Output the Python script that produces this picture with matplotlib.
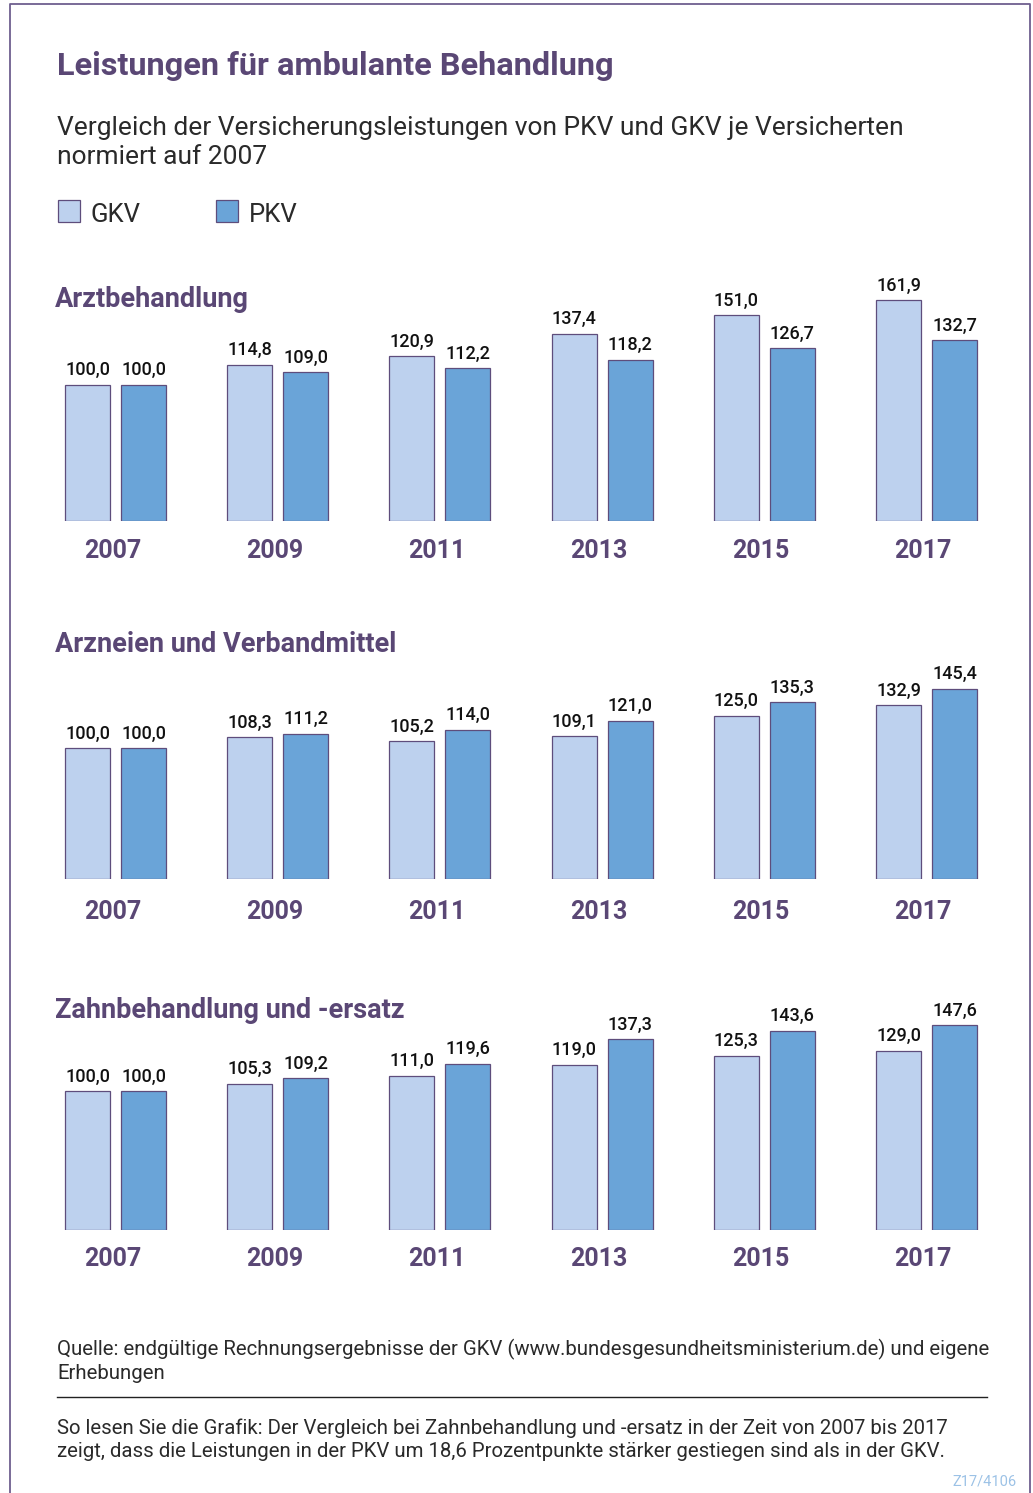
import matplotlib
matplotlib.use("Agg")
import matplotlib.pyplot as plt
import numpy as np

# data
years = ["2007", "2009", "2011", "2013", "2015", "2017"]
panels = ["Arztbehandlung", "Arzneien und Verbandmittel", "Zahnbehandlung und -ersatz"]
gkv_arzt = [100.0, 114.8, 120.9, 137.4, 151.0, 161.9]
pkv_arzt = [100.0, 109.0, 112.2, 118.2, 126.7, 132.7]
gkv_arznei = [100.0, 108.3, 105.2, 109.1, 125.0, 132.9]
pkv_arznei = [100.0, 111.2, 114.0, 121.0, 135.3, 145.4]
gkv_zahn = [100.0, 105.3, 111.0, 119.0, 125.3, 129.0]
pkv_zahn = [100.0, 109.2, 119.6, 137.3, 143.6, 147.6]

title = "Leistungen für ambulante Behandlung"
subtitle = "Vergleich der Versicherungsleistungen von PKV und GKV je Versicherten\nnormiert auf 2007"
source = "Quelle: endgültige Rechnungsergebnisse der GKV (www.bundesgesundheitsministerium.de) und eigene\nErhebungen"
howto = ("So lesen Sie die Grafik: Der Vergleich bei Zahnbehandlung und -ersatz in der Zeit von 2007 bis 2017\n"
         "zeigt, dass die Leistungen in der PKV um 18,6 Prozentpunkte stärker gestiegen sind als in der GKV.")
code = "Z17/4106"

# colours
c_gkv = "#bdd1ee"
c_pkv = "#6aa4d8"
c_edge = "#5e4d7c"
c_purple = "#5a4775"
c_text = "#2a2a2a"

plt.rcParams['font.family'] = ['Roboto', 'DejaVu Sans']

W, H = 1033, 1493
fig = plt.figure(figsize=(W / 100, H / 100), dpi=100)

def fy(px):
    return 1 - px / H

# frame
fig.add_artist(plt.Line2D([10 / W, 10 / W, 1030 / W, 1030 / W], [0, fy(4), fy(4), 0],
                          color="#6e5f8f", lw=1.3, transform=fig.transFigure))

fig.text(57 / W, fy(75), title, fontsize=23.4, fontweight='bold', color=c_purple, va='baseline')
fig.text(57 / W, fy(164), subtitle, fontsize=19, color=c_text, va='baseline', linespacing=1.28)

# legend
for x0, lab, col in [(58, "GKV", c_gkv), (216, "PKV", c_pkv)]:
    fig.add_artist(plt.Rectangle((x0 / W, fy(222)), 22 / W, 22 / H, facecolor=col,
                                 edgecolor=c_edge, lw=0.9, transform=fig.transFigure))
    fig.text((x0 + 33) / W, fy(222), lab, fontsize=18.5, color=c_text, va='baseline')

# panel layout: (bottom px, px per unit, title baseline px, year baseline px)
layout = [(521, 1.363, 307, 558), (879, 1.308, 652, 919), (1230, 1.389, 1018, 1266)]
series = [(gkv_arzt, pkv_arzt), (gkv_arznei, pkv_arznei), (gkv_zahn, pkv_zahn)]

x = np.arange(len(years))
left_px = 115.5 - 81.1
width_px = 162.2 * 6
off = 28 / 162.2
bw = 45 / 162.2

for name, (g, p), (bot, scale, tpx, ypx) in zip(panels, series, layout):
    ymax = 175
    ax = fig.add_axes([left_px / W, fy(bot), width_px / W, ymax * scale / H])
    ax.set_xlim(-0.5, 5.5)
    ax.set_ylim(0, ymax)
    ax.axis('off')
    b1 = ax.bar(x - off, g, bw, color=c_gkv, edgecolor=c_edge, lw=0.9)
    b2 = ax.bar(x + off, p, bw, color=c_pkv, edgecolor=c_edge, lw=0.9)
    for bars in (b1, b2):
        ax.bar_label(bars, labels=[f"{v:.1f}".replace(".", ",") for v in bars.datavalues],
                     padding=4, fontsize=13, fontweight='medium', color="#111111")
    for xi, yr in zip(x, years):
        ax.annotate(yr, (xi - 0.02, 0), xytext=(0, -(ypx - bot) * 0.72), textcoords='offset points',
                    ha='center', va='baseline', fontsize=18, fontweight='bold', color=c_purple)
    fig.text(55 / W, fy(tpx), name, fontsize=19.5, fontweight='bold', color=c_purple, va='baseline')

fig.text(57 / W, fy(1379), source, fontsize=14.7, color=c_text, va='baseline', linespacing=1.27)
fig.add_artist(plt.Line2D([57 / W, 987 / W], [fy(1397), fy(1397)], color="#222222", lw=1.0,
                          transform=fig.transFigure))
fig.text(57 / W, fy(1457), howto, fontsize=14.7, color=c_text, va='baseline', linespacing=1.27)
fig.text(1017 / W, fy(1486), code, fontsize=10.5, color="#9cc2e6", ha='right', va='baseline')

fig.savefig("out.png", dpi=100)
